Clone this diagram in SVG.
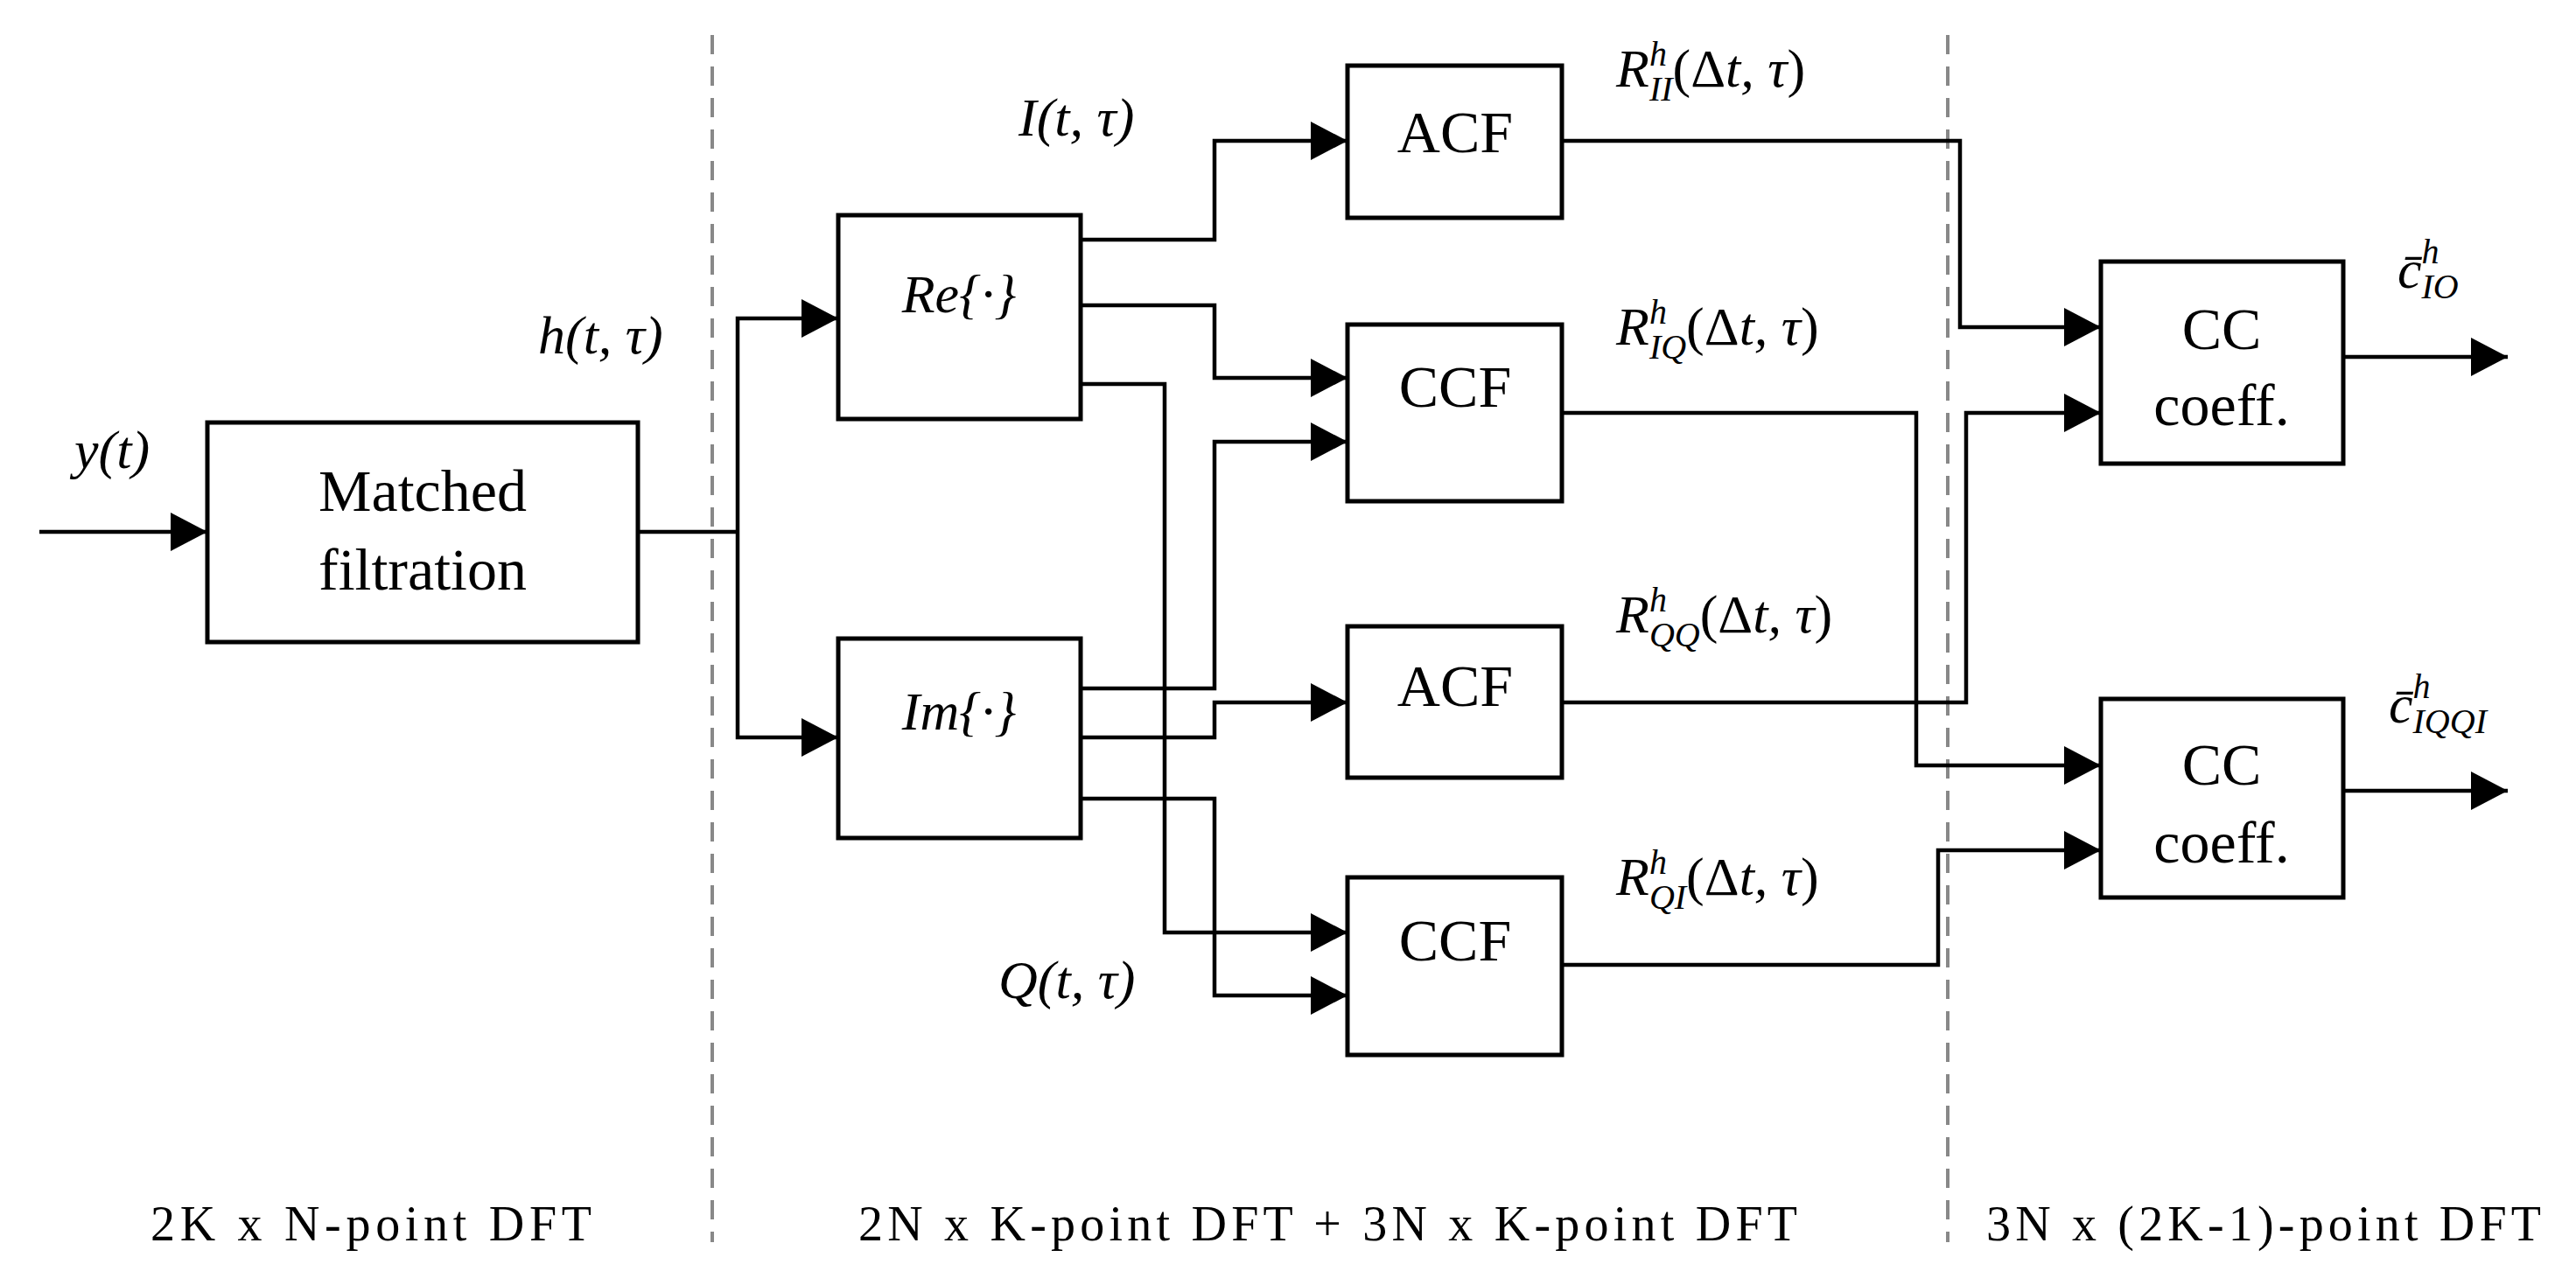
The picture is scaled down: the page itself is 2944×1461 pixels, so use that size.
<svg xmlns="http://www.w3.org/2000/svg" width="2944" height="1461" viewBox="0 0 2944 1461">
<style>
.box{fill:#fff;stroke:#000;stroke-width:5}
.ln{fill:none;stroke:#000;stroke-width:4.5}
.dash{fill:none;stroke:#888;stroke-width:4;stroke-dasharray:22 14}
.t{font-family:"Liberation Serif",serif;font-size:68px;text-anchor:middle;fill:#000}
.m{font-family:"Liberation Serif",serif;font-style:italic;font-size:62px;fill:#000}
.s{font-size:40px}
.b{font-family:"Liberation Serif",serif;font-size:56px;fill:#000}
</style>
<defs>
<marker id="ah" markerUnits="userSpaceOnUse" markerWidth="42" markerHeight="44" refX="42" refY="22" orient="auto"><path d="M0,0 L42,22 L0,44 z" fill="#000"/></marker>
</defs>
<g id="dividers">
<line class="dash" x1="814" y1="40" x2="814" y2="1420"/>
<line class="dash" x1="2226" y1="40" x2="2226" y2="1420"/>
</g>
<g id="connectors">
<path class="ln" d="M45,608 H237" marker-end="url(#ah)"/>
<path class="ln" d="M729,608 H843"/>
<path class="ln" d="M843,608 V364 H958" marker-end="url(#ah)"/>
<path class="ln" d="M843,608 V843 H958" marker-end="url(#ah)"/>
<path class="ln" d="M1235,274 H1388 V161 H1540" marker-end="url(#ah)"/>
<path class="ln" d="M1235,349 H1388 V432 H1540" marker-end="url(#ah)"/>
<path class="ln" d="M1235,439 H1331 V1066 H1540" marker-end="url(#ah)"/>
<path class="ln" d="M1235,787 H1388 V505 H1540" marker-end="url(#ah)"/>
<path class="ln" d="M1235,843 H1388 V803 H1540" marker-end="url(#ah)"/>
<path class="ln" d="M1235,913 H1388 V1138 H1540" marker-end="url(#ah)"/>
<path class="ln" d="M1785,161 H2240 V374 H2401" marker-end="url(#ah)"/>
<path class="ln" d="M1785,472 H2190 V875 H2401" marker-end="url(#ah)"/>
<path class="ln" d="M1785,803 H2247 V472 H2401" marker-end="url(#ah)"/>
<path class="ln" d="M1785,1103 H2215 V972 H2401" marker-end="url(#ah)"/>
<path class="ln" d="M2678,408 H2866" marker-end="url(#ah)"/>
<path class="ln" d="M2678,904 H2866" marker-end="url(#ah)"/>
</g>
<g id="matched"><rect class="box" x="237" y="483" width="492" height="251"/><text class="t" x="483" y="584">Matched</text><text class="t" x="483" y="674">filtration</text></g>
<g id="re"><rect class="box" x="958" y="246" width="277" height="233"/><text class="m" x="1096" y="357" text-anchor="middle">Re{·}</text></g>
<g id="im"><rect class="box" x="958" y="730" width="277" height="228"/><text class="m" x="1096" y="834" text-anchor="middle">Im{·}</text></g>
<g id="acf1"><rect class="box" x="1540" y="75" width="245" height="174"/><text class="t" x="1663" y="174">ACF</text></g>
<g id="ccf1"><rect class="box" x="1540" y="371" width="245" height="202"/><text class="t" x="1663" y="465">CCF</text></g>
<g id="acf2"><rect class="box" x="1540" y="716" width="245" height="173"/><text class="t" x="1663" y="807">ACF</text></g>
<g id="ccf2"><rect class="box" x="1540" y="1003" width="245" height="203"/><text class="t" x="1663" y="1098">CCF</text></g>
<g id="cc1"><rect class="box" x="2401" y="299" width="277" height="231"/><text class="t" x="2539" y="399">CC</text><text class="t" x="2539" y="486">coeff.</text></g>
<g id="cc2"><rect class="box" x="2401" y="799" width="277" height="227"/><text class="t" x="2539" y="897">CC</text><text class="t" x="2539" y="986">coeff.</text></g>
<g id="labels">
<text class="m" x="85" y="535">y(t)</text>
<text class="m" x="615" y="404">h(t, τ)</text>
<text class="m" x="1164" y="155">I(t, τ)</text>
<text class="m" x="1141" y="1141">Q(t, τ)</text>
<text class="m" x="1847" y="99">R<tspan class="s" dy="-24">h</tspan><tspan class="s" dx="-20" dy="40">II</tspan><tspan dy="-16" font-style="normal">(Δ</tspan>t, τ<tspan font-style="normal">)</tspan></text>
<text class="m" x="1847" y="394">R<tspan class="s" dy="-24">h</tspan><tspan class="s" dx="-20" dy="40">IQ</tspan><tspan dy="-16" font-style="normal">(Δ</tspan>t, τ<tspan font-style="normal">)</tspan></text>
<text class="m" x="1847" y="723">R<tspan class="s" dy="-24">h</tspan><tspan class="s" dx="-20" dy="40">QQ</tspan><tspan dy="-16" font-style="normal">(Δ</tspan>t, τ<tspan font-style="normal">)</tspan></text>
<text class="m" x="1847" y="1023">R<tspan class="s" dy="-24">h</tspan><tspan class="s" dx="-20" dy="40">QI</tspan><tspan dy="-16" font-style="normal">(Δ</tspan>t, τ<tspan font-style="normal">)</tspan></text>
<text class="m" x="2740" y="329">c̄<tspan class="s" dy="-28">h</tspan><tspan class="s" dx="-20" dy="40">IO</tspan></text>
<text class="m" x="2730" y="826">c̄<tspan class="s" dy="-28">h</tspan><tspan class="s" dx="-20" dy="40">IQQI</tspan></text>
<text class="b" x="172" y="1418" textLength="504">2K x N-point DFT</text>
<text class="b" x="981" y="1418" textLength="1073">2N x K-point DFT + 3N x K-point DFT</text>
<text class="b" x="2270" y="1418" textLength="634">3N x (2K-1)-point DFT</text>
</g>
</svg>
